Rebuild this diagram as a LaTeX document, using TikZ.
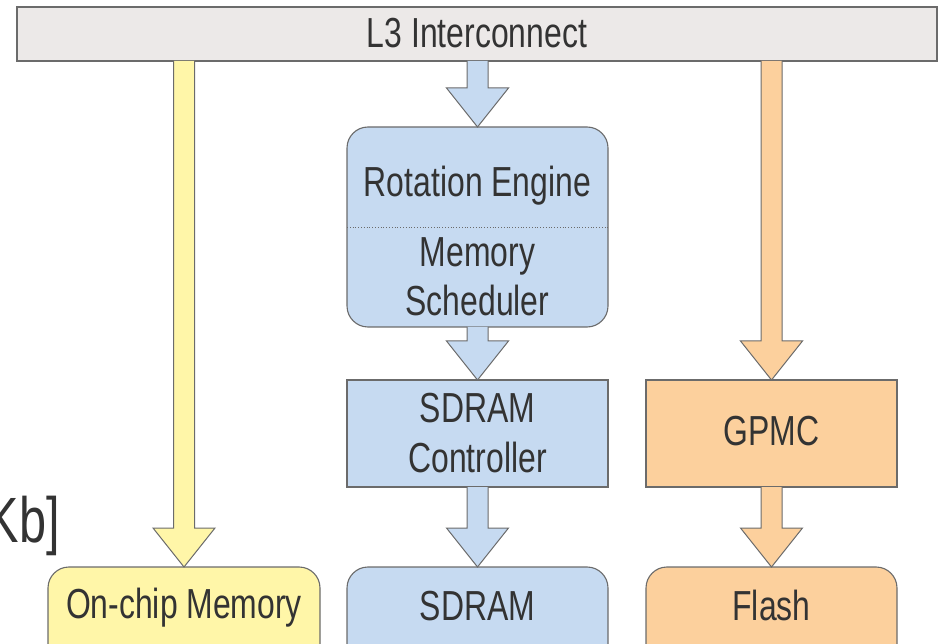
\documentclass[tikz,border=0pt]{standalone}
\usepackage{fontspec}
\setmainfont[FakeStretch=0.76]{Liberation Sans}
\usetikzlibrary{calc}
\definecolor{barfill}{HTML}{ECE9E8}
\definecolor{yel}{HTML}{FFF6A8}
\definecolor{blu}{HTML}{C6DAF1}
\definecolor{ora}{HTML}{FCD09D}
\definecolor{edge}{HTML}{6B6B6B}
\definecolor{txt}{HTML}{333333}
\newcommand\blkarrow[3]{%
  \draw[arrowline, fill=#3] let \p1=(#1.south -| #2.north), \p2=(#2.north) in
    (\x2-10.5pt,\y1) -- (\x2-10.5pt,\y2+39pt) -- (\x2-31pt,\y2+39pt) -- (\x2,\y2)
    -- (\x2+31pt,\y2+39pt) -- (\x2+10.5pt,\y2+39pt) -- (\x2+10.5pt,\y1);}
\begin{document}
\begin{tikzpicture}[x=1pt,y=-1pt,
  box/.style={draw=edge, line width=1.1pt, inner sep=0pt, outer sep=0pt},
  rbox/.style={box, rounded corners=21pt},
  arrowline/.style={draw=edge, line width=1pt, line join=miter},
  lbl/.style={text=txt, font=\fontsize{42}{50}\selectfont, inner sep=0pt, anchor=base}]
\useasboundingbox (0,0) rectangle (943,644);
\clip (0,0) rectangle (943,644);
% boxes
\node[box, fill=barfill, minimum width=920pt, minimum height=54pt] (l3) at (477,34) {};
\node[rbox, fill=yel, minimum width=272pt, minimum height=100pt] (onchip) at (184,617) {};
\node[rbox, fill=blu, minimum width=261pt, minimum height=200pt] (rot) at (477.5,227) {};
\node[box, fill=blu, minimum width=261pt, minimum height=107pt] (ctrl) at (477.5,433.5) {};
\node[rbox, fill=blu, minimum width=261pt, minimum height=100pt] (sdram) at (477.5,617) {};
\node[box, fill=ora, minimum width=251pt, minimum height=107pt] (gpmc) at (771.5,433.5) {};
\node[rbox, fill=ora, minimum width=251pt, minimum height=100pt] (flash) at (771.5,617) {};
\draw[edge, line width=0.8pt, dotted] (rot.west) -- (rot.east);
% arrows
\blkarrow{l3}{onchip}{yel}
\blkarrow{l3}{rot}{blu}
\blkarrow{l3}{gpmc}{ora}
\blkarrow{rot}{ctrl}{blu}
\blkarrow{ctrl}{sdram}{blu}
\blkarrow{gpmc}{flash}{ora}
% labels
\node[lbl] (tl3) at (477,48) {L3 Interconnect};
\node[lbl] (trot) at (477.5,197) {Rotation Engine};
\node[lbl] (tmem) at (477.5,267) {Memory};
\node[lbl] (tsch) at (477.5,316) {Scheduler};
\node[lbl] (tsd1) at (477.5,422) {SDRAM};
\node[lbl] (tctl) at (477.5,472) {Controller};
\node[lbl] (tsd2) at (477.5,620) {SDRAM};
\node[lbl] (tgp) at (771.5,446) {GPMC};
\node[lbl] (tfl) at (771.5,620) {Flash};
\node[lbl] (ton) at (184,618) {On-chip Memory};
\node[lbl, anchor=base east, font=\fontsize{64}{70}\selectfont] (tkb) at (60,542) {Kb]};
\end{tikzpicture}
\end{document}
